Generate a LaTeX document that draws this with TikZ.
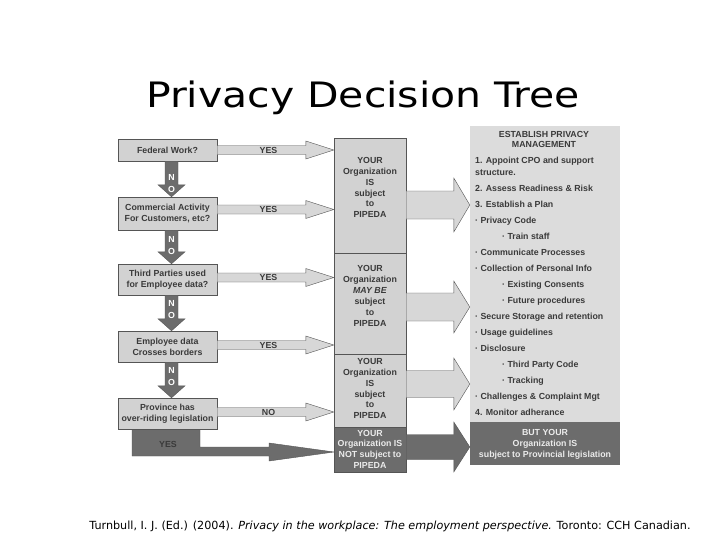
\documentclass[tikz,border=0pt]{standalone}
\usepackage{fontspec}
\setmainfont{Liberation Sans}
\newfontfamily\verdana{DejaVu Sans}
\usetikzlibrary{calc}

\definecolor{boxgray}{HTML}{D2D2D2}
\definecolor{colgray}{HTML}{DCDCDC}
\definecolor{shadegray}{HTML}{6C6C6C}
\definecolor{inkgray}{HTML}{3A3A3A}
\definecolor{linegray}{HTML}{555555}

\tikzset{
    every node/.style={inner sep=0pt, text=inkgray,
    	font=\bfseries\fontsize{8.8}{10.9}\selectfont},
    qbox/.style={rectangle, draw=linegray, fill=boxgray, minimum width=99pt, align=center},
    midbox/.style={rectangle, draw=linegray, fill=boxgray, minimum width=72pt},
    lightarrow/.style={draw=linegray, fill=boxgray!90!white},
    darkarrow/.style={draw=linegray, fill=shadegray},
    nolbl/.style={text=white, align=center, font=\bfseries\fontsize{8.8}{12}\selectfont},
    lighttxt/.style={text=white!92!black, align=center}
}

% block arrow to the right: from, to, shaft, head, head length, style, label
\newcommand{\hblock}[7]{%
  \draw[#6] let \p1=(#1), \p2=(#2) in
    (\x1,\y1+#3) -- (\x2-#5,\y1+#3) -- (\x2-#5,\y1+#4) -- (\x2,\y1)
    -- (\x2-#5,\y1-#4) -- (\x2-#5,\y1-#3) -- (\x1,\y1-#3) -- cycle
    ({0.56*\x1+0.44*\x2},\y1) node {#7};}
% block arrow down: from, to, label position
\newcommand{\vblock}[3]{%
  \draw[darkarrow] let \p1=(#1), \p2=(#2) in
    (\x1-6.5pt,\y1) -- (\x1-6.5pt,\y2+12pt) -- (\x1-13.5pt,\y2+12pt) -- (\x1,\y2)
    -- (\x1+13.5pt,\y2+12pt) -- (\x1+6.5pt,\y2+12pt) -- (\x1+6.5pt,\y1) -- cycle
    (\x1,{(1-#3)*\y1+#3*\y2}) node[nolbl] {N\\O};}

\begin{document}
\begin{tikzpicture}[x=1pt, y=-1pt]
  \useasboundingbox[fill=white] (0,0) rectangle (728,546);

  \node (title) [anchor=base, xscale=1.17, text=black, font=\verdana\fontsize{35}{42}\selectfont]
    at (363,107) {Privacy Decision Tree};

  % questions
  \node (q1) [qbox, minimum height=22pt] at (167.5,150) {Federal Work?};
  \node (q2) [qbox, minimum height=33pt] at (167.5,213.5) {Commercial Activity\\For Customers, etc?};
  \node (q3) [qbox, minimum height=31pt] at (167.5,279.5) {Third Parties used\\for Employee data?};
  \node (q4) [qbox, minimum height=31pt] at (167.5,346.5) {Employee data\\Crosses borders};

  % provincial branch
  \draw[darkarrow] (132,429) -- ++(0,27) -- ++(137,0) -- ++(0,5) -- (334,452)
    -- ++(-65,-9) -- ++(0,4) -- ++(-69,0) -- ++(0,-18) -- cycle;
  \node (q5) [qbox, minimum height=31pt] at (167.5,413.5) {Province has\\over-riding legislation};
  \node (yes5) at (168,444) {YES};

  % outcomes
  \node (m1) [midbox, minimum height=115pt] at (370,195.5) {};
  \node (m2) [midbox, minimum height=101pt] at (370,303.5) {};
  \node (m3) [midbox, minimum height=73pt] at (370,390.5) {};
  \node (m4) [midbox, fill=shadegray, minimum height=45pt] at (370,449.5) {};
  \node (t1) [align=center] at (370,187.5) {YOUR\\Organization\\IS\\subject\\to\\PIPEDA};
  \node (t2) [align=center] at (370,296) {YOUR\\Organization\\\textit{MAY BE}\\subject\\to\\PIPEDA};
  \node (t3) [align=center] at (370,388.5) {YOUR\\Organization\\IS\\subject\\to\\PIPEDA};
  \node (t4) [lighttxt, font=\bfseries\fontsize{8.8}{10.7}\selectfont] at (370,449)
    {YOUR\\Organization IS\\NOT subject to\\PIPEDA};

  % privacy management
  \node (rc) [fill=colgray, minimum width=150pt, minimum height=296pt] at (545,274) {};
  \node (rd) [fill=shadegray, minimum width=150pt, minimum height=43pt] at (545,443.5) {};
  \node (head) [align=center] at (544,139.5) {ESTABLISH PRIVACY\\MANAGEMENT};
  \node (steps) [anchor=north west, align=left, font=\bfseries\fontsize{8.8}{16}\selectfont]
    at (475,157) {1. Appoint CPO and support\\[-4pt]
    structure.\\
    2. Assess Readiness \& Risk\\
    3. Establish a Plan\\
    · Privacy Code\\
    \hspace{27pt}· Train staff\\
    · Communicate Processes\\
    · Collection of Personal Info\\
    \hspace{27pt}· Existing Consents\\
    \hspace{27pt}· Future procedures\\
    · Secure Storage and retention\\
    · Usage guidelines\\
    · Disclosure\\
    \hspace{27pt}· Third Party Code\\
    \hspace{27pt}· Tracking\\
    · Challenges \& Complaint Mgt\\
    4. Monitor adherance};
  \node (but) [lighttxt] at (545,444) {BUT YOUR\\Organization IS\\subject to Provincial legislation};

  % answers
  \hblock{q1.east}{q1.east -| m1.west}{4.5pt}{9pt}{28pt}{lightarrow}{YES}
  \hblock{[yshift=4pt]q2.east}{[yshift=4pt]q2.east -| m1.west}{4.5pt}{9pt}{28pt}{lightarrow}{YES}
  \hblock{[yshift=2pt]q3.east}{[yshift=2pt]q3.east -| m2.west}{4.5pt}{9pt}{28pt}{lightarrow}{YES}
  \hblock{[yshift=1.5pt]q4.east}{[yshift=1.5pt]q4.east -| m2.west}{4.5pt}{9pt}{28pt}{lightarrow}{YES}
  \hblock{[yshift=1.5pt]q5.east}{[yshift=1.5pt]q5.east -| m3.west}{4.5pt}{9pt}{28pt}{lightarrow}{NO}

  \vblock{[xshift=4pt]q1.south}{[xshift=4pt]q2.north}{0.64}
  \vblock{[xshift=4pt]q2.south}{[xshift=4pt]q3.north}{0.47}
  \vblock{[xshift=4pt]q3.south}{[xshift=4pt]q4.north}{0.4}
  \vblock{[xshift=4pt]q4.south}{[xshift=4pt]q5.north}{0.4}

  \hblock{[yshift=-9.5pt]m1.east}{[yshift=-9.5pt]m1.east -| rc.west}{14pt}{27pt}{16pt}{lightarrow}{}
  \hblock{[yshift=-3.5pt]m2.east}{[yshift=-3.5pt]m2.east -| rc.west}{14pt}{26pt}{16pt}{lightarrow}{}
  \hblock{[yshift=6.5pt]m3.east}{[yshift=6.5pt]m3.east -| rc.west}{13.5pt}{26pt}{16pt}{lightarrow}{}
  \hblock{[yshift=2.5pt]m4.east}{[yshift=2.5pt]m4.east -| rd.west}{12.5pt}{25pt}{16pt}{darkarrow}{}

  \node (cite) [anchor=base, text=black, font=\verdana\fontsize{11.2}{13}\selectfont]
    at (390,529) {Turnbull, I. J. (Ed.) (2004). \textit{Privacy in the workplace: The employment perspective.} Toronto: CCH Canadian.};
\end{tikzpicture}
\end{document}
